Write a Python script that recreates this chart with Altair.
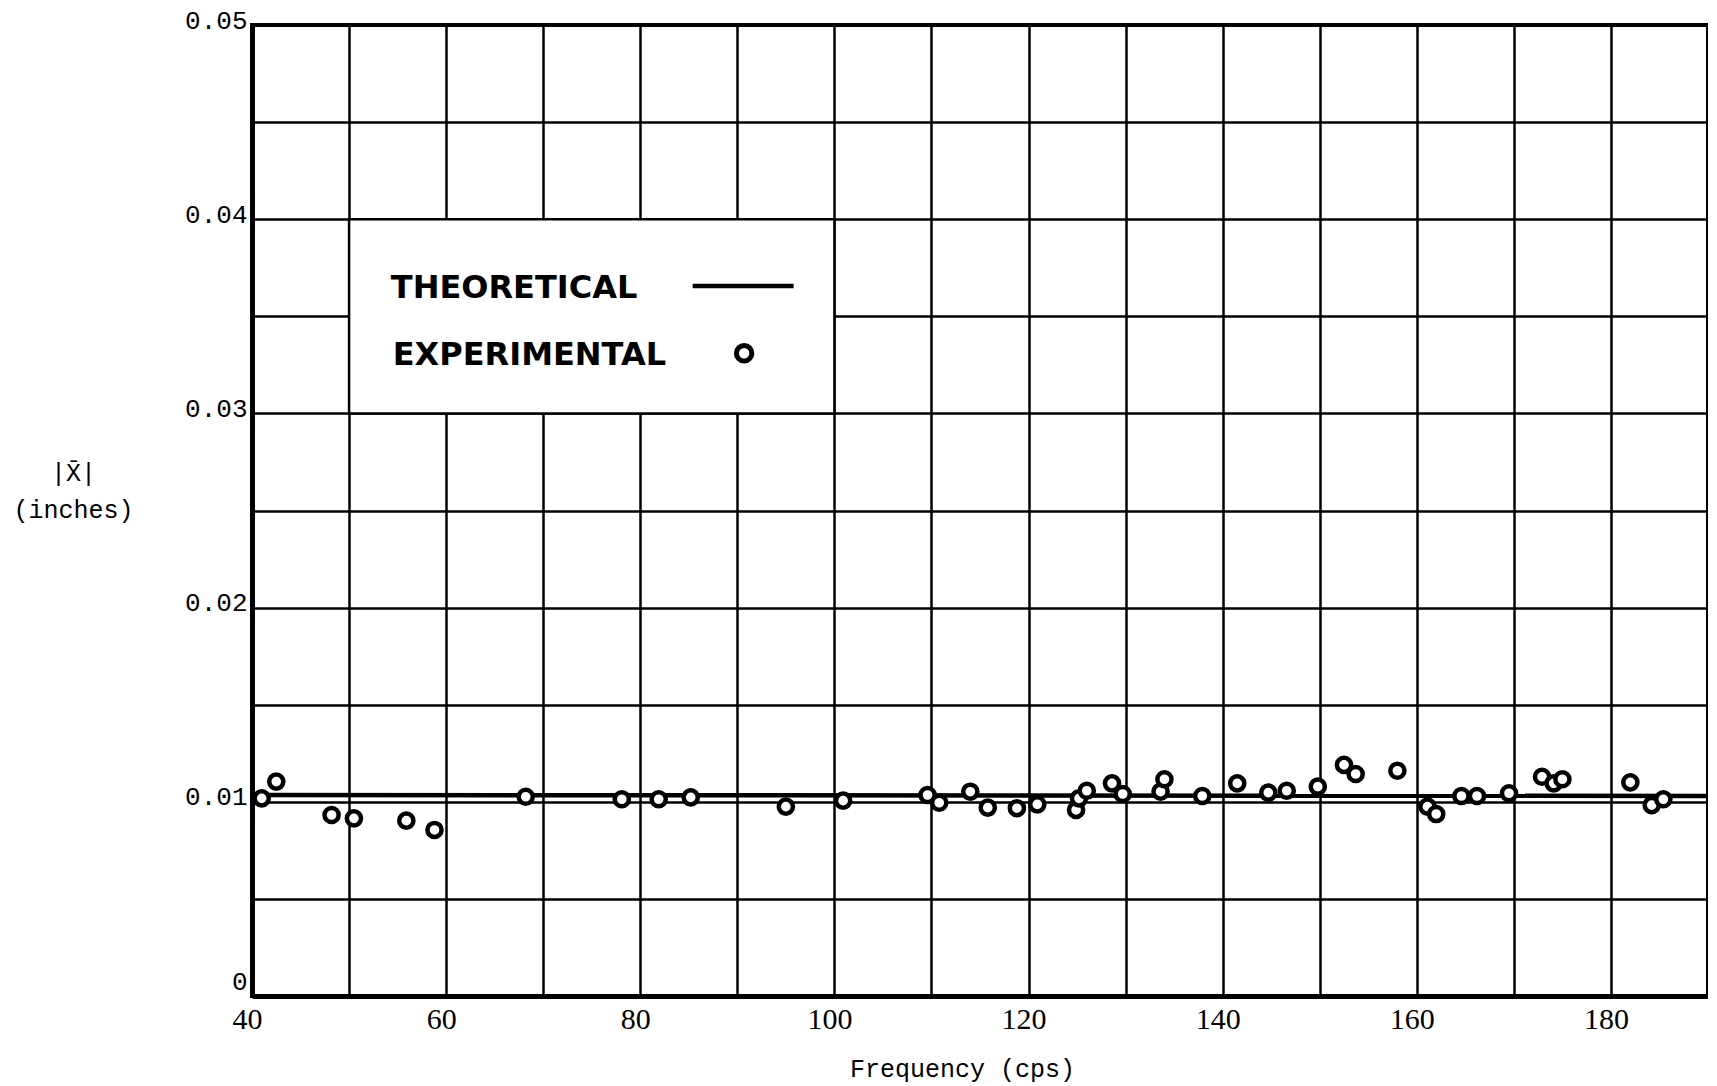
import altair as alt
import pandas as pd

# ---- data ----
exp_freq = [41.0, 42.5, 48.2, 50.5, 55.9, 58.8, 68.2, 78.1, 81.9, 85.2,
            95.0, 100.9, 109.6, 110.8, 114.0, 115.8, 118.8, 120.9, 124.9, 125.2,
            126.0, 128.6, 129.7, 133.6, 134.0, 137.9, 141.5, 144.7, 146.6, 149.8,
            152.5, 153.7, 158.0, 161.1, 162.0, 164.6, 166.2, 169.5, 172.9, 174.1,
            175.0, 182.0, 184.2, 185.4]
exp_amp = [0.01018, 0.01104, 0.00932, 0.00915, 0.00903, 0.00855, 0.01026, 0.01013, 0.01013, 0.01023,
           0.00975, 0.01006, 0.01035, 0.00995, 0.01052, 0.00970, 0.00967, 0.00987, 0.00958, 0.01018,
           0.01057, 0.01095, 0.01040, 0.01052, 0.01116, 0.01030, 0.01095, 0.01047, 0.01057, 0.01078,
           0.01190, 0.01143, 0.01160, 0.00975, 0.00937, 0.01030, 0.01030, 0.01044, 0.01129, 0.01095,
           0.01116, 0.01100, 0.00983, 0.01013]

theo_freq = [40, 190]
theo_amp = [0.01035, 0.0103]

x_ticks = [40, 50, 60, 70, 80, 90, 100, 110, 120, 130, 140, 150, 160, 170, 180, 190]
y_ticks = [0, 0.005, 0.01, 0.015, 0.02, 0.025, 0.03, 0.035, 0.04, 0.045, 0.05]

legend_labels = ["THEORETICAL", "EXPERIMENTAL"]

# ---- tables ----
exp_df = pd.DataFrame({"f": exp_freq, "a": exp_amp})
theo_df = pd.DataFrame({"f": theo_freq, "a": theo_amp})
box_df = pd.DataFrame({"x": [50], "x2": [100], "y": [0.03], "y2": [0.04]})
leg_text_df = pd.DataFrame({"label": legend_labels, "x": [54.3, 54.5], "y": [0.03646, 0.0330]})
leg_line_df = pd.DataFrame({"x": [85.4], "x2": [95.8], "y": [0.03656]})
leg_pt_df = pd.DataFrame({"x": [90.7], "y": [0.0331]})

xs = alt.Scale(domain=[40, 190], nice=False, zero=False)
ys = alt.Scale(domain=[0, 0.05], nice=False)

x_axis = alt.Axis(
    values=x_ticks,
    labelExpr="(datum.value % 20 == 0 && datum.value < 190) ? datum.label : ''",
    grid=True, gridColor="black", gridWidth=2.5, gridOpacity=1,
    domainColor="black", domainWidth=5, ticks=False,
    labelFont="Liberation Serif", labelFontSize=30, labelColor="black",
    labelPadding=8, labelOffset=-5, labelFlush=False, labelOverlap=False,
    title="Frequency (cps)", titleFont="Liberation Mono", titleFontSize=25,
    titleFontWeight="normal", titleColor="black",
    titleX=710, titleY=72, titleAlign="center", titleBaseline="middle",
)
y_axis = alt.Axis(
    values=y_ticks,
    labelExpr="datum.value == 0 ? '0' : (round(datum.value*200) % 2 == 0 ? format(datum.value, '.2f') : '')",
    grid=True, gridColor="black", gridWidth=2.5, gridOpacity=1,
    domainColor="black", domainWidth=5, ticks=False,
    labelFont="Liberation Mono", labelFontSize=26, labelColor="black",
    labelPadding=5, labelBaseline="alphabetic",
    labelOffset={"condition": {"test": "datum.value == 0", "value": -7}, "value": 3},
    labelFlush=False, labelOverlap=False,
    title=["|X\u0304|", "(inches)"], titleAngle=0, titleFont="Liberation Mono",
    titleFontSize=25, titleFontWeight="normal", titleColor="black",
    titleX=-179, titleY=447, titleAlign="center", titleBaseline="middle",
    titleLineHeight=37,
)

theo = alt.Chart(theo_df).mark_line(color="black", strokeWidth=4.5).encode(
    x=alt.X("f:Q", scale=xs, axis=x_axis),
    y=alt.Y("a:Q", scale=ys, axis=y_axis),
)

pts = alt.Chart(exp_df).mark_point(
    shape="circle", fill="white", stroke="black", strokeWidth=4.5,
    size=200, opacity=1, fillOpacity=1,
).encode(x=alt.X("f:Q", scale=xs), y=alt.Y("a:Q", scale=ys))

box = alt.Chart(box_df).mark_rect(fill="white", stroke="black", strokeWidth=2.5).encode(
    x=alt.X("x:Q", scale=xs), x2="x2:Q", y=alt.Y("y:Q", scale=ys), y2="y2:Q"
)

leg_text = alt.Chart(leg_text_df).mark_text(
    align="left", baseline="middle", font="DejaVu Sans", fontWeight="bold",
    fontSize=32, color="black",
).encode(x=alt.X("x:Q", scale=xs), y=alt.Y("y:Q", scale=ys), text="label:N")

leg_line = alt.Chart(leg_line_df).mark_rule(color="black", strokeWidth=4.5).encode(
    x=alt.X("x:Q", scale=xs), x2="x2:Q", y=alt.Y("y:Q", scale=ys)
)

leg_pt = alt.Chart(leg_pt_df).mark_point(
    shape="circle", fill="white", stroke="black", strokeWidth=5,
    size=240, opacity=1, fillOpacity=1,
).encode(x=alt.X("x:Q", scale=xs), y=alt.Y("y:Q", scale=ys))

chart = alt.layer(theo, pts, box, leg_text, leg_line, leg_pt).properties(
    width=1456, height=971,
    autosize=alt.AutoSizeParams(type="none"),
    padding={"left": 244, "top": 17, "right": 0, "bottom": 89},
    background="white",
).configure_view(stroke="black", strokeWidth=4)

chart.save("out.html", embed_options={"renderer": "svg", "actions": False})
